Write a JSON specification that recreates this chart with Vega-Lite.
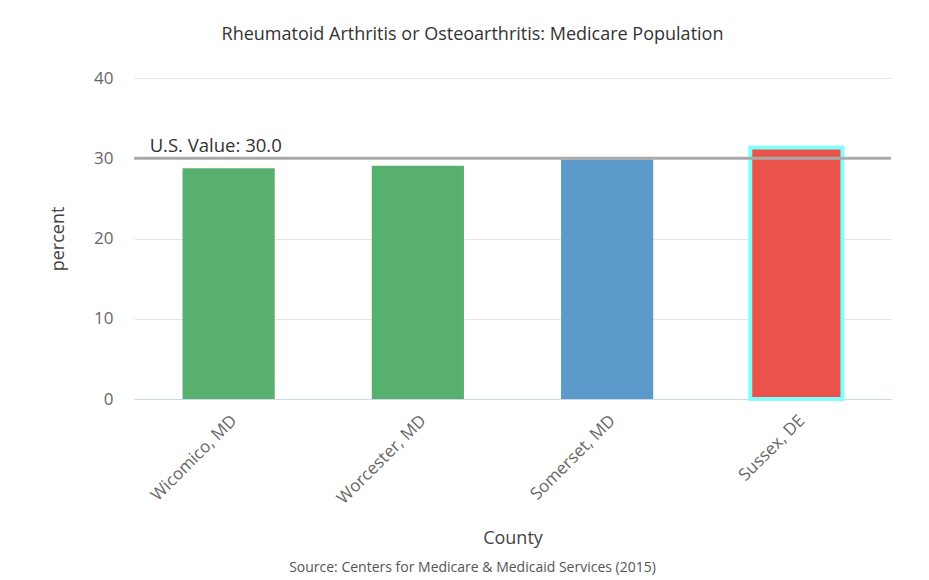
{
  "$schema": "https://vega.github.io/schema/vega-lite/v6.json",
  "autosize": {"type": "none"},
  "width": 757,
  "height": 321,
  "padding": {"left": 134, "top": 78, "right": 38, "bottom": 181},
  "background": "white",
  "config": {
    "font": "Open Sans",
    "view": {"stroke": null},
    "axis": {"labelFont": "Open Sans", "titleFont": "Open Sans", "titleFontWeight": "normal"}
  },
  "title": {
    "text": "Rheumatoid Arthritis or Osteoarthritis: Medicare Population",
    "anchor": "middle",
    "dx": -40,
    "offset": 25,
    "fontSize": 18,
    "fontWeight": "normal",
    "color": "#333333",
    "font": "Open Sans"
  },
  "datasets": {
    "counties": [
      {"county": "Wicomico, MD", "percent": 28.75},
      {"county": "Worcester, MD", "percent": 29.05},
      {"county": "Somerset, MD", "percent": 29.85},
      {"county": "Sussex, DE", "percent": 31.35}
    ],
    "us": [
      {"county": "Wicomico, MD", "percent": 30.0, "label": "U.S. Value: 30.0"}
    ]
  },
  "resolve": {"axis": {"x": "independent"}},
  "layer": [
    {
      "data": {"name": "counties"},
      "mark": {"type": "bar", "strokeWidth": 4},
      "encoding": {
        "x": {
          "field": "county",
          "type": "nominal",
          "sort": ["Wicomico, MD", "Worcester, MD", "Somerset, MD", "Sussex, DE"],
          "scale": {"domain": ["Wicomico, MD", "Worcester, MD", "Somerset, MD", "Sussex, DE"], "paddingInner": 0.513, "paddingOuter": 0.2565},
          "axis": {
            "orient": "bottom",
            "title": "County",
            "titleFontSize": 18,
            "titleColor": "#444444",
            "titlePadding": 23,
            "labelAngle": -45,
            "labelFontSize": 17,
            "labelColor": "#666666",
            "labelPadding": 13,
            "ticks": false,
            "domainColor": "#CCD6EB",
            "domainWidth": 1,
            "grid": false
          }
        },
        "y": {
          "field": "percent",
          "type": "quantitative",
          "scale": {"domain": [0, 40], "nice": false},
          "axis": {
            "title": "percent",
            "titleFontSize": 18,
            "titleColor": "#444444",
            "titlePadding": 26,
            "values": [0, 10, 20, 30, 40],
            "labelFontSize": 17,
            "labelColor": "#666666",
            "labelPadding": 21,
            "ticks": false,
            "domain": false,
            "gridColor": "#E6E6E6",
            "gridWidth": 1
          }
        },
        "color": {
          "field": "county",
          "type": "nominal",
          "scale": {
            "domain": ["Wicomico, MD", "Worcester, MD", "Somerset, MD", "Sussex, DE"],
            "range": ["#58B06F", "#58B06F", "#5B9AC9", "#EA534B"]
          },
          "legend": null
        },
        "stroke": {
          "condition": {"test": "datum.county === 'Sussex, DE'", "value": "#80FFFF"},
          "value": null
        }
      }
    },
    {
      "data": {"name": "us"},
      "mark": {"type": "rule", "color": "#AAAAAA", "strokeWidth": 3},
      "encoding": {
        "y": {"field": "percent", "type": "quantitative"}
      }
    },
    {
      "data": {"name": "us"},
      "mark": {"type": "text", "align": "left", "baseline": "alphabetic", "dx": -79, "dy": -6, "fontSize": 18.5, "color": "#333333", "font": "Open Sans"},
      "encoding": {
        "x": {
          "field": "county",
          "type": "nominal",
          "sort": ["Wicomico, MD", "Worcester, MD", "Somerset, MD", "Sussex, DE"],
          "axis": {
            "orient": "bottom",
            "title": "Source: Centers for Medicare & Medicaid Services (2015)",
            "titleFontSize": 14,
            "titleColor": "#555555",
            "titleX": 338,
            "titleAnchor": "middle",
            "titlePadding": 0,
            "labels": false,
            "ticks": false,
            "domain": false,
            "grid": false,
            "offset": 161
          }
        },
        "y": {"field": "percent", "type": "quantitative"},
        "text": {"field": "label"}
      }
    }
  ]
}
